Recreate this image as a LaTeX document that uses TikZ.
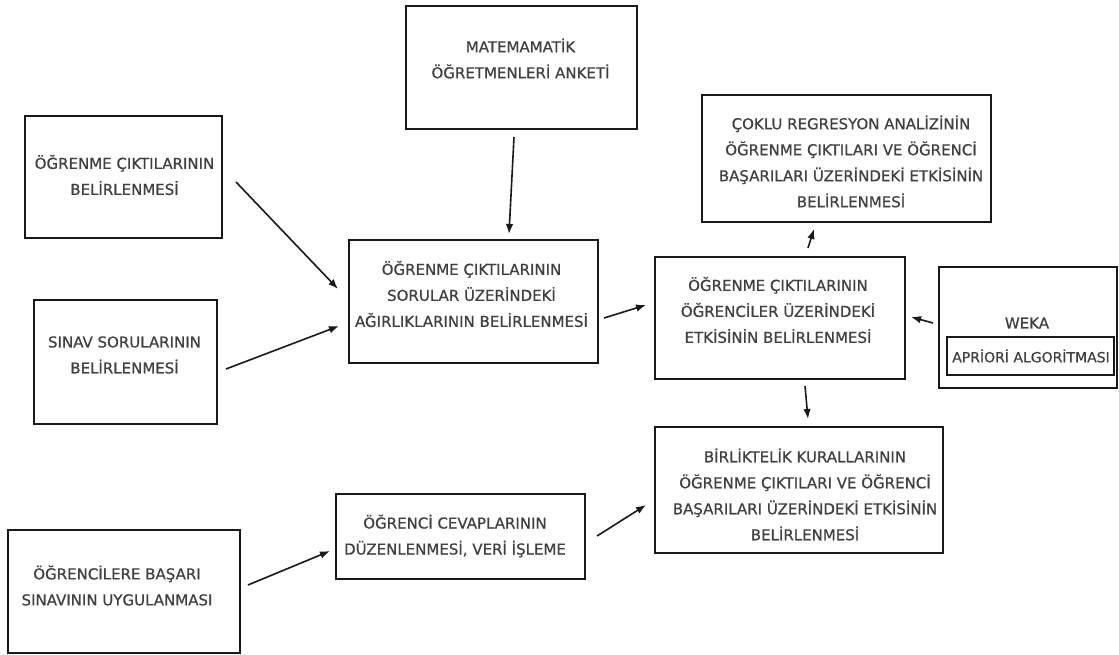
\documentclass[tikz,border=0pt]{standalone}
\usepackage{fontspec}
\setmainfont{DejaVu Sans}
\newfontfamily\boxfont{DejaVu Sans}[FakeBold=0.7]
\usetikzlibrary{arrows.meta}
\begin{document}
\begin{tikzpicture}[x=1pt,y=-1pt,
  boxnode/.style={draw=black!90,line width=2.6pt,rectangle,inner sep=0pt,outer sep=0pt},
  innerbox/.style={draw=black!90,line width=2.3pt,rectangle,inner sep=0pt,outer sep=0pt},
  txt/.style={align=center,inner sep=0pt,text=black!75,font=\boxfont\fontsize{15pt}{26pt}\selectfont},
  smalltxt/.style={txt,font=\boxfont\fontsize{14pt}{26pt}\selectfont},
  arr/.style={line width=1.6pt,black!90,-{Latex[length=10pt,width=7.5pt]}}]
\useasboundingbox (0,0) rectangle (1119,655);
% boxes
\node[boxnode,minimum width=197pt,minimum height=122pt] (A) at (123.5,177) {};
\node[txt] (At) at (124.5,175) {ÖĞRENME ÇIKTILARININ\\BELİRLENMESİ};
\node[boxnode,minimum width=231pt,minimum height=123pt] (B) at (521.5,67.5) {};
\node[txt] (Bt) at (520.5,58.5) {MATEMAMATİK\\ÖĞRETMENLERİ ANKETİ};
\node[boxnode,minimum width=183pt,minimum height=124pt] (C) at (125.5,362) {};
\node[txt] (Ct) at (124.5,355) {SINAV SORULARININ\\BELİRLENMESİ};
\node[boxnode,minimum width=249pt,minimum height=123pt] (D) at (473.5,301.5) {};
\node[txt] (Dt) at (471.5,294) {ÖĞRENME ÇIKTILARININ\\SORULAR ÜZERİNDEKİ\\AĞIRLIKLARININ BELİRLENMESİ};
\node[boxnode,minimum width=250pt,minimum height=122pt] (E) at (780,318) {};
\node[txt] (Et) at (778,310) {ÖĞRENME ÇIKTILARININ\\ÖĞRENCİLER ÜZERİNDEKİ\\ETKİSİNİN BELİRLENMESİ};
\node[boxnode,minimum width=289pt,minimum height=127pt] (F) at (846.5,158.5) {};
\node[txt] (Ft) at (851,161.5) {ÇOKLU REGRESYON ANALİZİNİN\\ÖĞRENME ÇIKTILARI VE ÖĞRENCİ\\BAŞARILARI ÜZERİNDEKİ ETKİSİNİN\\BELİRLENMESİ};
\node[boxnode,minimum width=178pt,minimum height=121pt] (G) at (1028,327.5) {};
\node[txt] (Gt) at (1027,323) {WEKA};
\node[innerbox,minimum width=167pt,minimum height=38pt] (Gi) at (1030.5,356) {};
\node[smalltxt] (Git) at (1031,356) {APRİORİ ALGORİTMASI};
\node[boxnode,minimum width=288pt,minimum height=126pt] (H) at (799,490) {};
\node[txt] (Ht) at (805,494.5) {BİRLİKTELİK KURALLARININ\\ÖĞRENME ÇIKTILARI VE ÖĞRENCİ\\BAŞARILARI ÜZERİNDEKİ ETKİSİNİN\\BELİRLENMESİ};
\node[boxnode,minimum width=249pt,minimum height=85pt] (I) at (460.5,536.5) {};
\node[txt] (It) at (455,536) {ÖĞRENCİ CEVAPLARININ\\DÜZENLENMESİ, VERİ İŞLEME};
\node[boxnode,minimum width=232pt,minimum height=123pt] (J) at (124,591.5) {};
\node[txt] (Jt) at (117,585.5) {ÖĞRENCİLERE BAŞARI\\SINAVININ UYGULANMASI};
% connector end points (arrows do not touch the boxes)
\coordinate (a1) at (236,182); \coordinate (a2) at (338,289);
\coordinate (c1) at (226,369); \coordinate (c2) at (339,326);
\coordinate (b1) at (514,137); \coordinate (b2) at (509,234);
\coordinate (d1) at (604,318); \coordinate (d2) at (646,305);
\coordinate (e1) at (808,248); \coordinate (e2) at (814,229);
\coordinate (g1) at (933,323); \coordinate (g2) at (911,317);
\coordinate (e3) at (805,386); \coordinate (e4) at (808,419);
\coordinate (j1) at (248,585); \coordinate (j2) at (330,551);
\coordinate (i1) at (597,536); \coordinate (i2) at (646,505);
\draw[arr] (a1) -- (a2);
\draw[arr] (c1) -- (c2);
\draw[arr] (b1) -- (b2);
\draw[arr] (d1) -- (d2);
\draw[arr] (e1) -- (e2);
\draw[arr] (g1) -- (g2);
\draw[arr] (e3) -- (e4);
\draw[arr] (j1) -- (j2);
\draw[arr] (i1) -- (i2);
\end{tikzpicture}
\end{document}
